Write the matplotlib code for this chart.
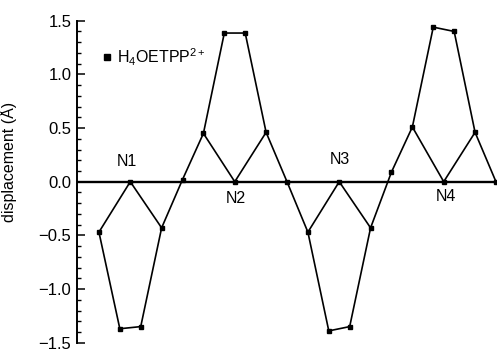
import matplotlib
matplotlib.use("Agg")
import matplotlib.pyplot as plt
from matplotlib.ticker import MultipleLocator, FuncFormatter

plt.rcParams['font.family'] = ['Liberation Sans', 'DejaVu Sans']
plt.rcParams['mathtext.fontset'] = 'custom'
plt.rcParams['mathtext.rm'] = 'Liberation Sans'
plt.rcParams['mathtext.it'] = 'Liberation Sans:italic'
plt.rcParams['mathtext.bf'] = 'Liberation Sans:bold'

# ring atoms in order: Ca Cb Cb Ca Cm ... (20 carbon positions)
ring_pos = list(range(20))
ring_disp = [-0.47, -1.37, -1.35, -0.43, 0.02,
             0.45, 1.385, 1.385, 0.46, 0.00,
             -0.47, -1.39, -1.35, -0.43, 0.09,
             0.51, 1.44, 1.40, 0.46, 0.00]
n_labels = ["N1", "N2", "N3", "N4"]
n_pos = [1.5, 6.5, 11.5, 16.5]
n_disp = [0.0, 0.0, 0.0, 0.0]
# each N bonds to the two Ca atoms of its pyrrole
n_ca = [(0, 3), (5, 8), (10, 13), (15, 18)]
n_label_xy = [(1.34, 0.19), (6.55, -0.155), (11.55, 0.21), (16.6, -0.14)]
legend_label = r"H$_\mathrm{4}$OETPP$^\mathrm{2+}$"

fig = plt.figure(figsize=(4.97, 3.49), dpi=100)
ax = fig.add_axes([77/497, 6.3/349, 420/497, 322/349])

# zero line
ax.axhline(0, color='black', lw=1.7, zorder=1)

# ring path
ax.plot(ring_pos, ring_disp, color='black', lw=1.2, marker='s', ms=2.6, zorder=3)
# N - Ca bonds
for (a, b), x, y in zip(n_ca, n_pos, n_disp):
    ax.plot([ring_pos[a], x, ring_pos[b]], [ring_disp[a], y, ring_disp[b]],
            color='black', lw=1.2, zorder=3)
ax.plot(n_pos, n_disp, ls='none', marker='s', ms=2.6, color='black', zorder=4)

for lab, (lx, ly) in zip(n_labels, n_label_xy):
    ax.text(lx, ly, lab, ha='center', va='center', fontsize=11.5)

# legend
ax.plot([0.37], [1.16], marker='s', ms=5, color='black', ls='none')
ax.text(0.88, 1.16, legend_label, ha='left', va='center', fontsize=11.5)

ax.set_xlim(-1.05, 19.05)
ax.set_ylim(-1.5, 1.5)
ax.set_xticks([])
for s in ['top', 'right', 'bottom']:
    ax.spines[s].set_visible(False)
ax.spines['left'].set_linewidth(1.4)
ax.yaxis.set_major_locator(MultipleLocator(0.5))
ax.yaxis.set_minor_locator(MultipleLocator(0.1))
ax.tick_params(axis='y', which='major', direction='in', length=6, width=1.1, labelsize=12, pad=4)
ax.tick_params(axis='y', which='minor', direction='in', length=3, width=1.0)
ax.yaxis.set_major_formatter(FuncFormatter(lambda v, p: f"{v:.1f}".replace('-', '\u2212')))
ax.set_ylabel("displacement (Å)", fontsize=11.5)
ax.yaxis.set_label_coords(-0.142, 0.56)

fig.savefig("out.png", dpi=100)
